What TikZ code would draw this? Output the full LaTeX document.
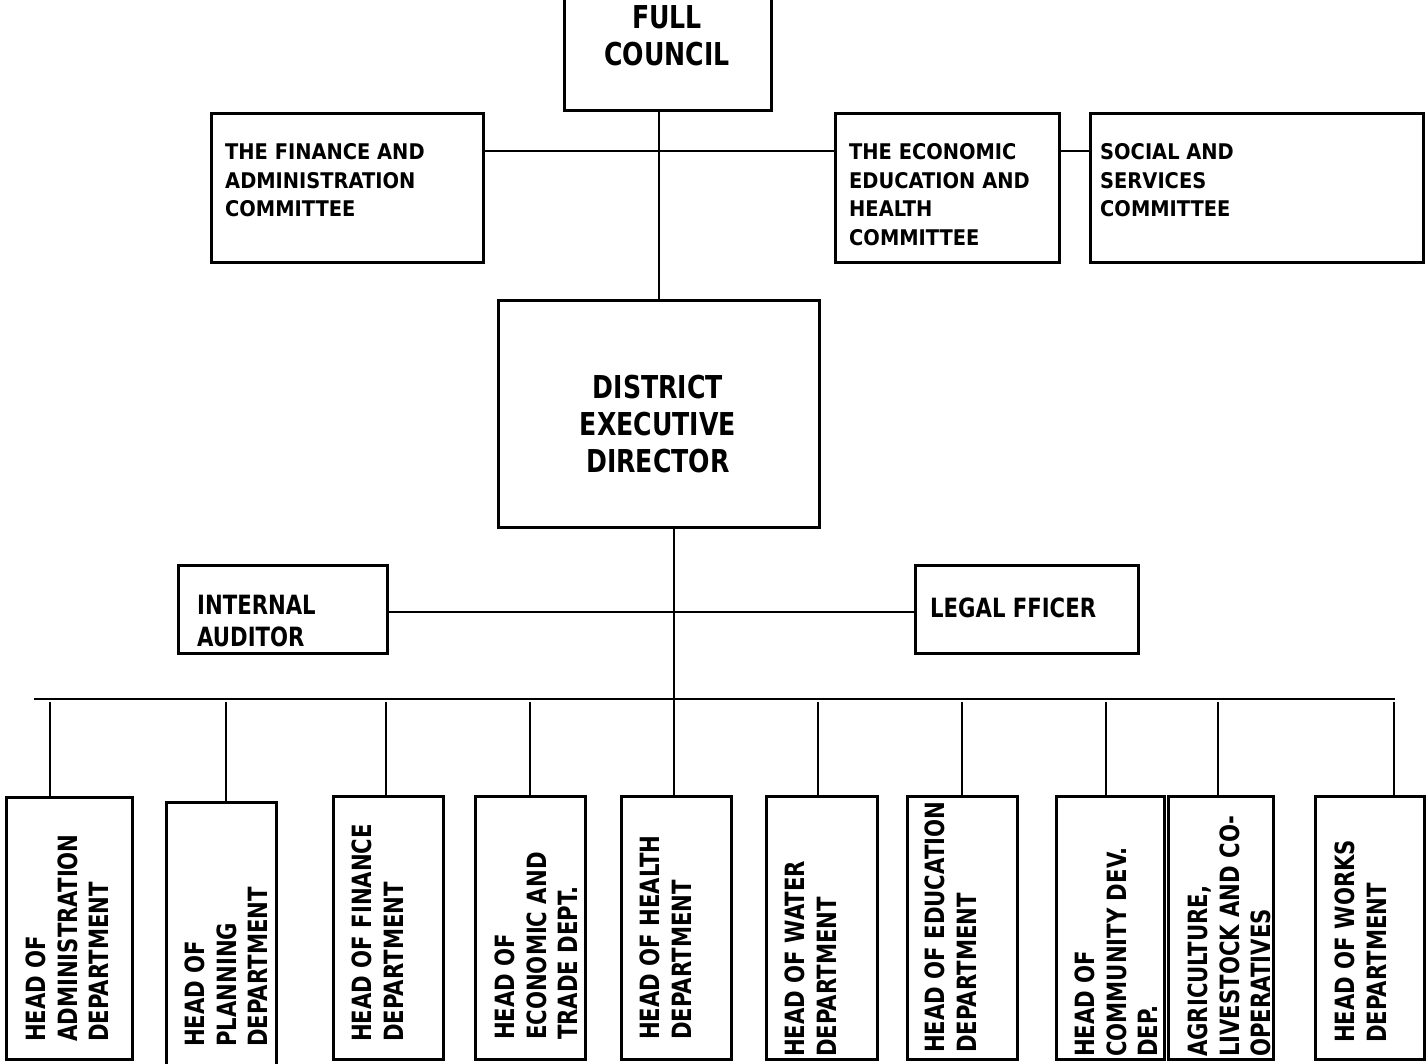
\documentclass[tikz,border=0pt]{standalone}
\usepackage{fontspec}
\newfontfamily\fa[FakeStretch=0.8]{DejaVu Sans Bold}
\newfontfamily\fc[FakeStretch=0.9]{DejaVu Sans Bold}
\begin{document}
\begin{tikzpicture}[x=1pt,y=-1pt,
  box/.style={draw, line width=2.5pt, rectangle, inner sep=0pt, anchor=north west},
  conn/.style={line width=2.4pt},
  lbl/.style={inner sep=0pt, anchor=north west, align=left},
  comtext/.style={lbl, font={\fc\fontsize{21.6}{28.8}\selectfont}},
  midtext/.style={lbl, font={\fa\fontsize{26.5}{32}\selectfont}},
  bigtext/.style={inner sep=0pt, anchor=north, align=center, font={\fa\fontsize{31.5}{37.5}\selectfont}},
  vtext/.style={lbl, rotate=90, font={\fa\fontsize{26.5}{31.3}\selectfont}}
]
\useasboundingbox (0,0) rectangle (1426,1063);
\fill[white] (0,0) rectangle (1426,1063);

% boxes
\node[box, minimum width=207pt, minimum height=140pt] (fc) at (563,-31) {};
\node[box, minimum width=272pt, minimum height=149pt] (fin) at (210,112) {};
\node[box, minimum width=224pt, minimum height=149pt] (eco) at (834,112) {};
\node[box, minimum width=333pt, minimum height=149pt] (soc) at (1089,112) {};
\node[box, minimum width=321pt, minimum height=227pt] (ded) at (497,299) {};
\node[box, minimum width=209pt, minimum height=88pt] (aud) at (177,564) {};
\node[box, minimum width=223pt, minimum height=88pt] (leg) at (914,564) {};

\node[box, minimum width=126pt, minimum height=262pt] (b1) at (5,796) {};
\node[box, minimum width=110pt, minimum height=280pt] (b2) at (165,801) {};
\node[box, minimum width=110pt, minimum height=263pt] (b3) at (332,795) {};
\node[box, minimum width=110pt, minimum height=263pt] (b4) at (474,795) {};
\node[box, minimum width=110pt, minimum height=263pt] (b5) at (620,795) {};
\node[box, minimum width=111pt, minimum height=263pt] (b6) at (765,795) {};
\node[box, minimum width=110pt, minimum height=263pt] (b7) at (906,795) {};
\node[box, minimum width=108pt, minimum height=263pt] (b8) at (1055,795) {};
\node[box, minimum width=105pt, minimum height=263pt] (b9) at (1167,795) {};
\node[box, minimum width=109pt, minimum height=263pt] (b10) at (1314,795) {};

% texts
\node[bigtext] (fct) at (667,5) {FULL\\COUNCIL};
\node[comtext] (fint) at (225,143) {THE FINANCE AND\\ADMINISTRATION\\COMMITTEE};
\node[comtext] (ecot) at (849,143) {THE ECONOMIC\\EDUCATION AND\\HEALTH\\COMMITTEE};
\node[comtext] (soct) at (1100,143) {SOCIAL AND\\SERVICES\\COMMITTEE};
\node[bigtext, font={\fa\fontsize{31.5}{37}\selectfont}] (dedt) at (658,375) {DISTRICT\\EXECUTIVE\\DIRECTOR};
\node[midtext] (audt) at (197,595) {INTERNAL\\AUDITOR};
\node[midtext] (legt) at (930,598) {LEGAL FFICER};

\node[vtext] (b1t) at (26,1042) {HEAD OF\\ADMINISTRATION\\DEPARTMENT};
\node[vtext] (b2t) at (185,1047) {HEAD OF\\PLANNING\\DEPARTMENT};
\node[vtext] (b3t) at (352,1042) {HEAD OF FINANCE\\DEPARTMENT};
\node[vtext] (b4t) at (495,1040) {HEAD OF\\ECONOMIC AND\\TRADE DEPT.};
\node[vtext] (b5t) at (640,1040) {HEAD OF HEALTH\\DEPARTMENT};
\node[vtext] (b6t) at (785,1057) {HEAD OF WATER\\DEPARTMENT};
\node[vtext] (b7t) at (925,1053) {HEAD OF EDUCATION\\DEPARTMENT};
\node[vtext] (b8t) at (1075,1057) {HEAD OF\\COMMUNITY DEV.\\DEP.};
\node[vtext] (b9t) at (1188,1057) {AGRICULTURE,\\LIVESTOCK AND CO-\\OPERATIVES};
\node[vtext] (b10t) at (1335,1043) {HEAD OF WORKS\\DEPARTMENT};

% connectors
\coordinate (j1) at (658,151);
\coordinate (j2) at (674,612);
\draw[conn] (ded.north) -- (ded.north |- fc.south);
\draw[conn] (fin.east |- j1) -- (eco.west |- j1);
\draw[conn] (eco.east |- j1) -- (soc.west |- j1);
\draw[conn] (ded.south -| j2) -- (b5.north -| j2);
\draw[conn] (aud.east |- j2) -- (leg.west |- j2);

\coordinate (busL) at (34,699);
\coordinate (busR) at (1395,699);
\draw[conn] (busL) -- (busR);
\coordinate (t1) at (50,702);
\coordinate (t2) at (226,702);
\coordinate (t3) at (386,702);
\coordinate (t4) at (530,702);
\coordinate (t6) at (818,702);
\coordinate (t7) at (962,702);
\coordinate (t8) at (1106,702);
\coordinate (t9) at (1218,702);
\coordinate (t10) at (1394,702);
\draw[conn] (t1) -- ([yshift=-3pt]t1 |- b1.north);
\draw[conn] (t2) -- ([yshift=-3pt]t2 |- b2.north);
\draw[conn] (t3) -- ([yshift=-3pt]t3 |- b3.north);
\draw[conn] (t4) -- ([yshift=-3pt]t4 |- b4.north);
\draw[conn] (t6) -- ([yshift=-3pt]t6 |- b6.north);
\draw[conn] (t7) -- ([yshift=-3pt]t7 |- b7.north);
\draw[conn] (t8) -- ([yshift=-3pt]t8 |- b8.north);
\draw[conn] (t9) -- ([yshift=-3pt]t9 |- b9.north);
\draw[conn] (t10) -- ([yshift=-3pt]t10 |- b10.north);
\end{tikzpicture}
\end{document}
